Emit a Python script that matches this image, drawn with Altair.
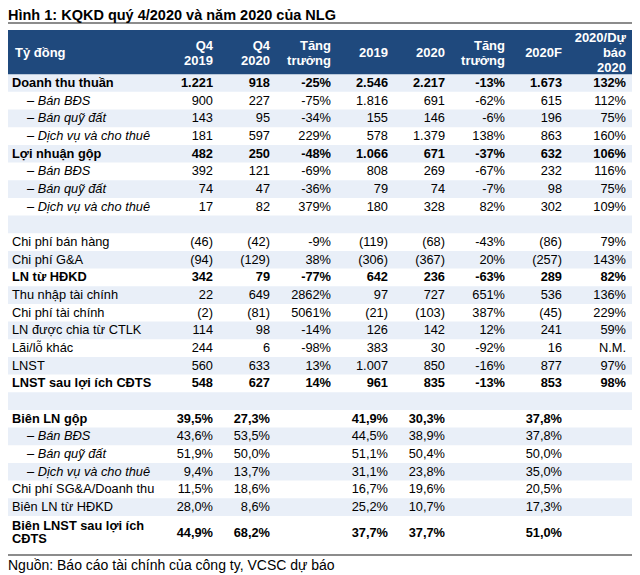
import altair as alt
import pandas as pd

# ---------------- data ----------------
title = "Hình 1: KQKD quý 4/2020 và năm 2020 của NLG"
source = "Nguồn: Báo cáo tài chính của công ty, VCSC dự báo"
corner = "Tỷ đồng"

labels = ["Doanh thu thuần", "Bán BĐS", "Bán quỹ đất", "Dịch vụ và cho thuê",
          "Lợi nhuận gộp", "Bán BĐS", "Bán quỹ đất", "Dịch vụ và cho thuê", "",
          "Chi phí bán hàng", "Chi phí G&A", "LN từ HĐKD", "Thu nhập tài chính",
          "Chi phí tài chính", "LN được chia từ CTLK", "Lãi/lỗ khác", "LNST",
          "LNST sau lợi ích CĐTS", "", "Biên LN gộp", "Bán BĐS", "Bán quỹ đất",
          "Dịch vụ và cho thuê", "Chi phí SG&A/Doanh thu", "Biên LN từ HĐKD",
          "Biên LNST sau lợi ích CĐTS"]
kinds = ["total", "sub", "sub", "sub", "total", "sub", "sub", "sub", "blank",
         "item", "item", "total", "item", "item", "item", "item", "item", "total",
         "blank", "total", "sub", "sub", "sub", "item", "item", "total"]

header_labels = ["Q4\n2019", "Q4\n2020", "Tăng\ntrưởng", "2019", "2020",
                 "Tăng\ntrưởng", "2020F", "2020/Dự\nbáo\n2020"]

q4_2019 = ["1.221", "900", "143", "181", "482", "392", "74", "17", "",
           "(46)", "(94)", "342", "22", "(2)", "114", "244", "560", "548", "",
           "39,5%", "43,6%", "51,9%", "9,4%", "11,5%", "28,0%", "44,9%"]
q4_2020 = ["918", "227", "95", "597", "250", "121", "47", "82", "",
           "(42)", "(129)", "79", "649", "(81)", "98", "6", "633", "627", "",
           "27,3%", "53,5%", "50,0%", "13,7%", "18,6%", "8,6%", "68,2%"]
growth_q4 = ["-25%", "-75%", "-34%", "229%", "-48%", "-69%", "-36%", "379%", "",
             "-9%", "38%", "-77%", "2862%", "5061%", "-14%", "-98%", "13%", "14%", "",
             "", "", "", "", "", "", ""]
y2019 = ["2.546", "1.816", "155", "578", "1.066", "808", "79", "180", "",
         "(119)", "(306)", "642", "97", "(21)", "126", "383", "1.007", "961", "",
         "41,9%", "44,5%", "51,1%", "31,1%", "16,7%", "25,2%", "37,7%"]
y2020 = ["2.217", "691", "146", "1.379", "671", "269", "74", "328", "",
         "(68)", "(367)", "236", "727", "(103)", "142", "30", "850", "835", "",
         "30,3%", "38,9%", "50,4%", "23,8%", "19,6%", "10,7%", "37,7%"]
growth_y = ["-13%", "-62%", "-6%", "138%", "-37%", "-67%", "-7%", "82%", "",
            "-43%", "20%", "-63%", "651%", "387%", "12%", "-92%", "-16%", "-13%", "",
            "", "", "", "", "", "", ""]
f2020 = ["1.673", "615", "196", "863", "632", "232", "98", "302", "",
         "(86)", "(257)", "289", "536", "(45)", "241", "16", "877", "853", "",
         "37,8%", "37,8%", "50,0%", "35,0%", "20,5%", "17,3%", "51,0%"]
vs_forecast = ["132%", "112%", "75%", "160%", "106%", "116%", "75%", "109%", "",
               "79%", "143%", "82%", "136%", "229%", "59%", "N.M.", "97%", "98%", "",
               "", "", "", "", "", "", ""]

columns = [q4_2019, q4_2020, growth_q4, y2019, y2020, growth_y, f2020, vs_forecast]

# ---------------- layout (page coordinates) ----------------
X_DOM = [8, 632]
Y_DOM = [8, 575]
COL_RIGHT = [213, 270, 331, 388, 445, 505, 562, 626]
ROW0, PITCH = 74.2, 17.67
LEFT_X, SUB_X = 12, 27
FONT = "Liberation Sans"
FS = 12.8
HEADER_BLUE = "#1F497D"
BAND = "#E9EFF8"
HEAD_LH = 15
LAST_LH = 13.5

n = len(labels)
rows = []
for i, (lab, kind) in enumerate(zip(labels, kinds)):
    top = ROW0 + i * PITCH
    bottom = top + PITCH
    if i == n - 1:
        bottom = top + 2 * PITCH - 2
    center = (top + bottom) / 2
    text = lab
    ty = center
    if kind == "sub":
        text = "– " + lab
    if i == n - 1:
        head, tail = lab.rsplit(" ", 1)
        text = head + "\n" + tail
        ty = center - LAST_LH / 2
    rows.append(dict(i=i, kind=kind, text=text, top=top, bottom=bottom, y=center, ty=ty,
                     x=SUB_X if kind == "sub" else LEFT_X,
                     x0=8, x1=632, shaded=(i % 2 == 0)))
rows_df = pd.DataFrame(rows)

cells = []
for j, col in enumerate(columns):
    for i, v in enumerate(col):
        if v:
            cells.append(dict(x=COL_RIGHT[j], y=rows[i]["y"], text=v,
                              bold=(kinds[i] == "total")))
cells_df = pd.DataFrame(cells)

head_df = pd.DataFrame([dict(x=COL_RIGHT[j], y=53 - (h.count("\n")) * HEAD_LH / 2, text=h)
                        for j, h in enumerate(header_labels)])
corner_df = pd.DataFrame([dict(x=15, y=53, text=corner)])
box_df = pd.DataFrame([dict(x=8, x2=632, y=30, y2=74.2)])
lines_df = pd.DataFrame([dict(x=8, x2=632, y=23), dict(x=8, x2=632, y=555)])
title_df = pd.DataFrame([dict(x=8, y=19.5, text=title)])
source_df = pd.DataFrame([dict(x=8, y=566, text=source)])

xs = alt.Scale(domain=X_DOM)
ys = alt.Scale(domain=Y_DOM, reverse=True)


def X(f):
    return alt.X(f, type="quantitative", scale=xs, axis=None)


def Y(f):
    return alt.Y(f, type="quantitative", scale=ys, axis=None)


bands = alt.Chart(rows_df).transform_filter("datum.shaded").mark_rect(color=BAND).encode(
    x=X("x0"), x2="x1", y=Y("top"), y2="bottom")

box = alt.Chart(box_df).mark_rect(color=HEADER_BLUE).encode(
    x=X("x"), x2="x2", y=Y("y"), y2="y2")

lines = alt.Chart(lines_df).mark_rule(color="#8C8C8C", strokeWidth=2).encode(
    x=X("x"), x2="x2", y=Y("y"))

title_t = alt.Chart(title_df).mark_text(align="left", baseline="alphabetic", font=FONT,
                                        fontSize=14.5, fontWeight="bold", color="#000000").encode(
    x=X("x"), y=Y("y"), text="text:N")

head_t = alt.Chart(head_df).mark_text(align="right", baseline="middle", font=FONT,
                                      fontSize=13, fontWeight="bold", color="#FFFFFF",
                                      lineBreak="\n", lineHeight=HEAD_LH).encode(
    x=X("x"), y=Y("y"), text="text:N")

corner_t = alt.Chart(corner_df).mark_text(align="left", baseline="middle", font=FONT,
                                          fontSize=13, fontWeight="bold", color="#FFFFFF").encode(
    x=X("x"), y=Y("y"), text="text:N")

lab_total = alt.Chart(rows_df).transform_filter("datum.kind == 'total'").mark_text(
    align="left", baseline="middle", font=FONT, fontSize=FS, fontWeight="bold",
    color="#000000", lineBreak="\n", lineHeight=LAST_LH).encode(x=X("x"), y=Y("ty"), text="text:N")

lab_item = alt.Chart(rows_df).transform_filter("datum.kind == 'item'").mark_text(
    align="left", baseline="middle", font=FONT, fontSize=FS, color="#000000").encode(
    x=X("x"), y=Y("ty"), text="text:N")

lab_sub = alt.Chart(rows_df).transform_filter("datum.kind == 'sub'").mark_text(
    align="left", baseline="middle", font=FONT, fontSize=FS, fontStyle="italic",
    color="#000000").encode(x=X("x"), y=Y("ty"), text="text:N")

val_bold = alt.Chart(cells_df).transform_filter("datum.bold").mark_text(
    align="right", baseline="middle", font=FONT, fontSize=FS, fontWeight="bold",
    color="#000000").encode(x=X("x"), y=Y("y"), text="text:N")

val_norm = alt.Chart(cells_df).transform_filter("!datum.bold").mark_text(
    align="right", baseline="middle", font=FONT, fontSize=FS, color="#000000").encode(
    x=X("x"), y=Y("y"), text="text:N")

source_t = alt.Chart(source_df).mark_text(align="left", baseline="middle", font=FONT,
                                          fontSize=14, color="#000000").encode(
    x=X("x"), y=Y("y"), text="text:N")

chart = alt.layer(bands, box, lines, title_t, head_t, corner_t, lab_total, lab_item,
                  lab_sub, val_bold, val_norm, source_t).properties(
    width=624, height=567, padding=0,
    autosize=alt.AutoSizeParams(type="none"),
    background="#FFFFFF",
).configure_view(strokeWidth=0)

chart.save("out.html", embed_options={"renderer": "svg", "actions": False})
